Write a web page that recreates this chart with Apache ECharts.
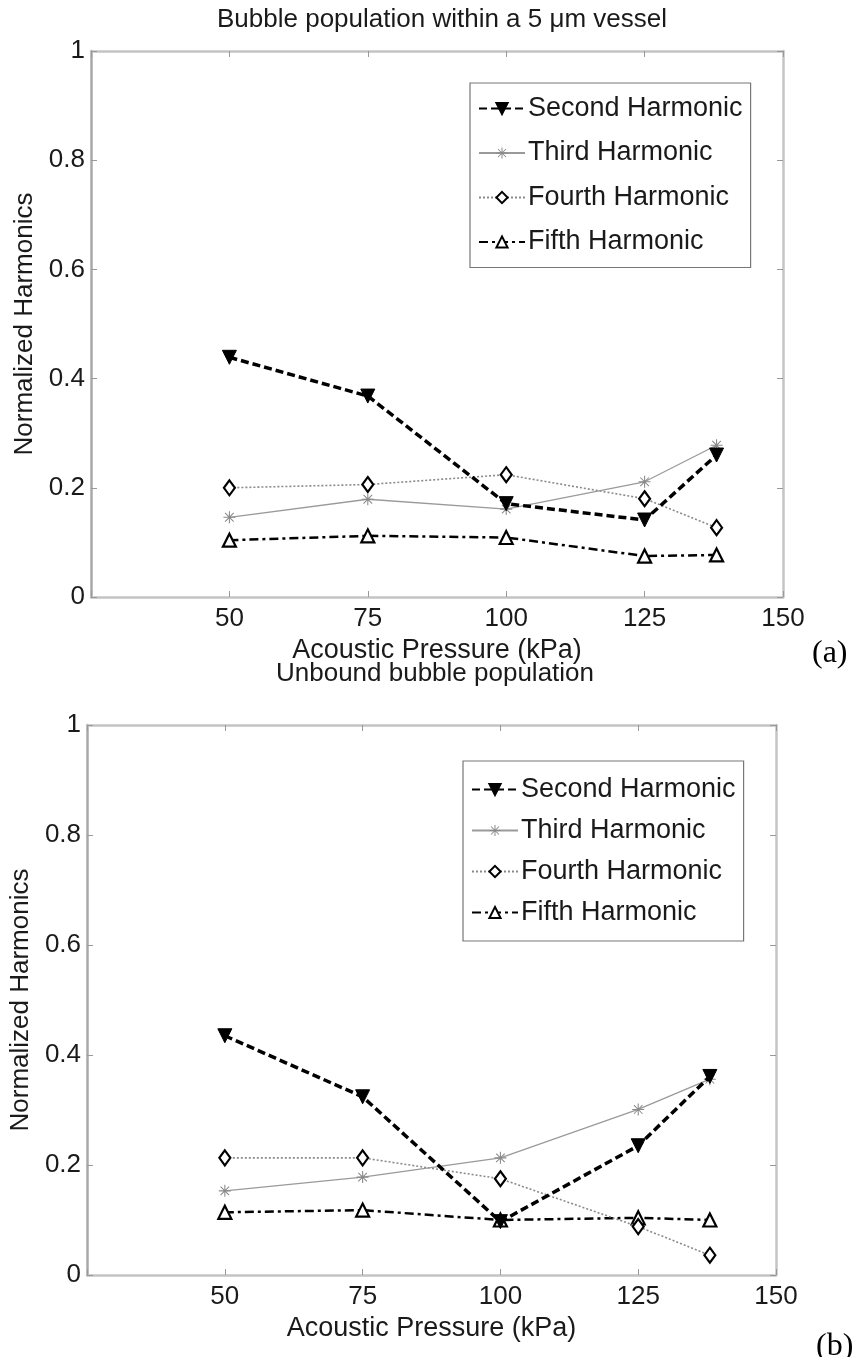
<!DOCTYPE html>
<html>
<head>
<meta charset="utf-8">
<script src="https://cdn.jsdelivr.net/npm/echarts@6/dist/echarts.min.js"></script>
<style>
  html, body { margin: 0; padding: 0; background: #fff; }
  #main { width: 855px; height: 1357px; }
</style>
</head>
<body>
<div id="main"></div>
<script>
// acoustic pressure (kPa) at which each harmonic was measured
const pressure = [50, 75, 100, 125, 138]
const harmonicNames = ['Second Harmonic', 'Third Harmonic', 'Fourth Harmonic', 'Fifth Harmonic']
const xTicks = [25, 150, 25] // min, max, interval
const yTicks = [0, 1, 0.2]

// (a) bubble population within a 5 um vessel
const vesselSecond = [0.439, 0.368, 0.171, 0.141, 0.260]
const vesselThird = [0.146, 0.179, 0.161, 0.211, 0.278]
const vesselFourth = [0.200, 0.206, 0.224, 0.180, 0.127]
const vesselFifth = [0.104, 0.112, 0.109, 0.075, 0.077]

// (b) unbound bubble population
const unboundSecond = [0.435, 0.324, 0.097, 0.235, 0.361]
const unboundThird = [0.153, 0.178, 0.213, 0.301, 0.356]
const unboundFourth = [0.213, 0.213, 0.175, 0.088, 0.036]
const unboundFifth = [0.114, 0.118, 0.100, 0.104, 0.100]

const FONT = "'Liberation Sans', Arial, Helvetica, sans-serif"
const ASTERISK = 'path://M-0.8,-9L0.8,-9L0.8,9L-0.8,9Z M-9,-0.8L9,-0.8L9,0.8L-9,0.8Z M-7,-5.9L-5.9,-7L7,5.9L5.9,7Z M5.9,-7L7,-5.9L-5.9,7L-7,5.9Z'

// marker + line look of each harmonic, same in both panels
const looks = [
  { symbol: 'triangle', symbolRotate: 180, symbolSize: 14,
    itemStyle: { color: '#000', borderColor: '#000', borderWidth: 1 },
    lineStyle: { color: '#000', width: 3.5, type: [8, 4] } },
  { symbol: ASTERISK, symbolSize: 12,
    itemStyle: { color: '#8a8a8a' },
    lineStyle: { color: '#9a9a9a', width: 1.3, type: 'solid' } },
  { symbol: 'diamond', symbolSize: [11, 15],
    itemStyle: { color: '#fff', borderColor: '#000', borderWidth: 2.2 },
    lineStyle: { color: '#8a8a8a', width: 1.6, type: [2, 2] } },
  { symbol: 'triangle', symbolSize: 13,
    itemStyle: { color: '#fff', borderColor: '#000', borderWidth: 2.2 },
    lineStyle: { color: '#000', width: 2.5, type: [9, 4, 3, 4] } }
]

function pairs (ys) {
  return pressure.map((x, i) => [x, ys[i]])
}

function makeSeries (values, axisIndex) {
  return values.map((ys, k) => Object.assign({
    name: harmonicNames[k],
    type: 'line',
    xAxisIndex: axisIndex,
    yAxisIndex: axisIndex,
    data: pairs(ys),
    showAllSymbol: true,
    animation: false,
    z: 10 - k
  }, looks[k]))
}

const axisLineStyle = { color: '#c4c4c4', width: 2.5 }
const tickStyle = { show: true, inside: true, length: 6, lineStyle: { color: '#999', width: 1 } }
const labelStyle = { color: '#1a1a1a', fontSize: 26, fontFamily: FONT }
const nameStyle = { color: '#1a1a1a', fontSize: 27, fontFamily: FONT }

function xAxes (gridIndex) {
  return [
    {
      gridIndex, type: 'value', min: xTicks[0], max: xTicks[1], interval: xTicks[2],
      position: 'bottom',
      axisLine: { show: true, onZero: false, lineStyle: axisLineStyle },
      axisTick: tickStyle,
      splitLine: { show: false },
      axisLabel: Object.assign({ margin: 9, formatter: v => (v === xTicks[0] ? '' : String(v)) }, labelStyle),
      name: 'Acoustic Pressure (kPa)',
      nameLocation: 'middle',
      nameGap: 40,
      nameTextStyle: nameStyle
    },
    {
      gridIndex, type: 'value', min: xTicks[0], max: xTicks[1], interval: xTicks[2],
      position: 'top',
      axisLine: { show: true, onZero: false, lineStyle: axisLineStyle },
      axisTick: tickStyle,
      splitLine: { show: false },
      axisLabel: { show: false }
    }
  ]
}

function yAxes (gridIndex) {
  return [
    {
      gridIndex, type: 'value', min: yTicks[0], max: yTicks[1], interval: yTicks[2],
      position: 'left',
      axisLine: { show: true, onZero: false, lineStyle: { color: '#a8a8a8', width: 2.5 } },
      axisTick: tickStyle,
      splitLine: { show: false },
      axisLabel: Object.assign({ margin: 6 }, labelStyle),
      name: 'Normalized Harmonics',
      nameLocation: 'middle',
      nameRotate: 90,
      nameGap: 43,
      nameTextStyle: labelStyle
    },
    {
      gridIndex, type: 'value', min: yTicks[0], max: yTicks[1], interval: yTicks[2],
      position: 'right',
      axisLine: { show: true, onZero: false, lineStyle: axisLineStyle },
      axisTick: tickStyle,
      splitLine: { show: false },
      axisLabel: { show: false }
    }
  ]
}

function legendAt (left, top, gap, padTop) {
  return {
    data: harmonicNames,
    orient: 'vertical',
    left, top,
    padding: [padTop, 8, padTop, 8],
    itemGap: gap,
    itemWidth: 46,
    itemHeight: 14,
    borderColor: '#777',
    borderWidth: 1.2,
    backgroundColor: '#fff',
    textStyle: { color: '#1a1a1a', fontSize: 27, fontFamily: FONT, padding: [0, 0, 0, -2] },
    selectedMode: false
  }
}

const chart = echarts.init(document.getElementById('main'))
chart.setOption({
  backgroundColor: '#fff',
  animation: false,
  title: [
    { text: 'Bubble population within a 5 μm vessel', left: 437, top: 2, textAlign: 'center',
      textStyle: { color: '#1a1a1a', fontSize: 26, fontWeight: 'normal', fontFamily: FONT } },
    { text: 'Unbound bubble population', left: 430, top: 656, textAlign: 'center',
      textStyle: { color: '#1a1a1a', fontSize: 26, fontWeight: 'normal', fontFamily: FONT } }
  ],
  legend: [legendAt(470, 83, 17.5, 12), legendAt(463, 761, 14, 15)],
  grid: [
    { left: 91, top: 51, width: 692, height: 546 },
    { left: 84, top: 725, width: 692, height: 550 }
  ],
  xAxis: xAxes(0).concat(xAxes(1)),
  yAxis: yAxes(0).concat(yAxes(1)),
  series: makeSeries([vesselSecond, vesselThird, vesselFourth, vesselFifth], 0)
    .concat(makeSeries([unboundSecond, unboundThird, unboundFourth, unboundFifth], 2)),
  graphic: [
    { type: 'text', left: 812, top: 638,
      style: { text: '(a)', fontSize: 32, fontFamily: "'Liberation Serif', 'Times New Roman', serif", fill: '#000' } },
    { type: 'text', left: 816, top: 1331,
      style: { text: '(b)', fontSize: 32, fontFamily: "'Liberation Serif', 'Times New Roman', serif", fill: '#000' } }
  ]
})
</script>
</body>
</html>
